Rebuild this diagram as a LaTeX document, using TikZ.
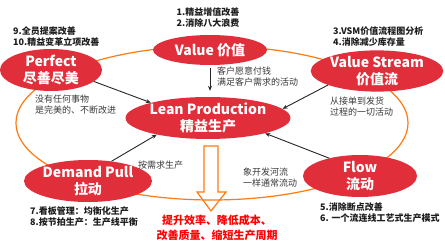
\documentclass[tikz,border=0pt]{standalone}
\usepackage{fontspec}
\setmainfont{Noto Sans CJK SC}
\usetikzlibrary{shapes.geometric,arrows.meta}
\definecolor{nodered}{HTML}{E02F3A}
\definecolor{ringorange}{HTML}{FF7A10}
\definecolor{txtgray}{HTML}{3A3A3A}
\definecolor{txtdark}{HTML}{1E1E1E}
\definecolor{redtxt}{HTML}{FF0000}
\begin{document}
\begin{tikzpicture}[x=1pt,y=-1pt,
  principle/.style={ellipse, fill=nodered, inner sep=0pt, text=white,
    font=\fontsize{14}{16.5}\selectfont\bfseries, align=center},
  link/.style={draw=black!85, line width=0.9pt, -{Stealth[length=5pt,width=4pt]}},
  note/.style={inner sep=0pt, text=txtgray, font=\fontsize{9}{11}\selectfont, align=left, anchor=west},
  tipnote/.style={inner sep=0pt, text=txtdark, font=\fontsize{9}{11}\selectfont\bfseries, align=left, anchor=west},
]
\useasboundingbox (0,0) rectangle (445,245);
\fill[white] (0,0) rectangle (445,245);
\draw[ringorange, line width=1.2pt] (212,123) ellipse [x radius=196, y radius=77];
\draw[ringorange, line width=1.2pt] (204,146) -- (218,146) -- (218,192) -- (226,192) -- (211,211) -- (197,192) -- (204,192) -- cycle;

\node[principle, minimum width=102pt, minimum height=42pt] (perfect) at (51,70) {Perfect\\尽善尽美};
\node[principle, minimum width=114pt, minimum height=30pt] (value) at (210,50) {Value 价值};
\node[principle, minimum width=116pt, minimum height=36pt] (vstream) at (377,71) {Value Stream\\价值流};
\node[principle, minimum width=152pt, minimum height=40pt] (lean) at (208,118) {Lean Production\\精益生产};
\node[principle, minimum width=116pt, minimum height=42pt] (demand) at (88,181) {Demand Pull\\拉动};
\node[principle, minimum width=114pt, minimum height=42pt] (flow) at (360,176) {Flow\\流动};

\draw[link, shorten <=3pt, shorten >=6pt] (value.south) -- (value.south |- lean.north);
\draw[link] (perfect.-15) -- (lean.165);
\draw[link] (vstream.196) -- (lean.7);
\draw[link] (demand.40) -- (lean.198);
\draw[link] (flow.150) -- (lean.-15);

\node[tipnote, anchor=center, align=center] (t12) at (208,18) {1.精益增值改善\\2.消除八大浪费};
\node[tipnote] (t910) at (13,37) {9.全员提案改善\\10.精益变革立项改善};
\node[tipnote] (t34) at (333,37) {3.VSM价值流程图分析\\4.消除减少库存量};
\node[tipnote] (t78) at (30,216.5) {7.看板管理：均衡化生产\\8.按节拍生产：生产线平衡};
\node[tipnote] (t56) at (320,212.5) {5.消除断点改善\\6. 一个流连线工艺式生产模式};

\node[note] (n1) at (35,104.5) {没有任何事物\\是完美的、不断改进};
\node[note] (n2) at (217,77) {客户愿意付钱\\满足客户需求的活动};
\node[note] (n3) at (330,106.5) {从接单到发货\\过程的一切活动};
\node[note] (n4) at (138,165) {按需求生产};
\node[note] (n5) at (243,177.5) {象开发河流\\一样通常流动};

\node[inner sep=0pt, text=redtxt, font=\fontsize{11}{15}\selectfont\bfseries, align=center] (goal) at (217,227.5) {提升效率、降低成本、\\改善质量、缩短生产周期};
\end{tikzpicture}
\end{document}
